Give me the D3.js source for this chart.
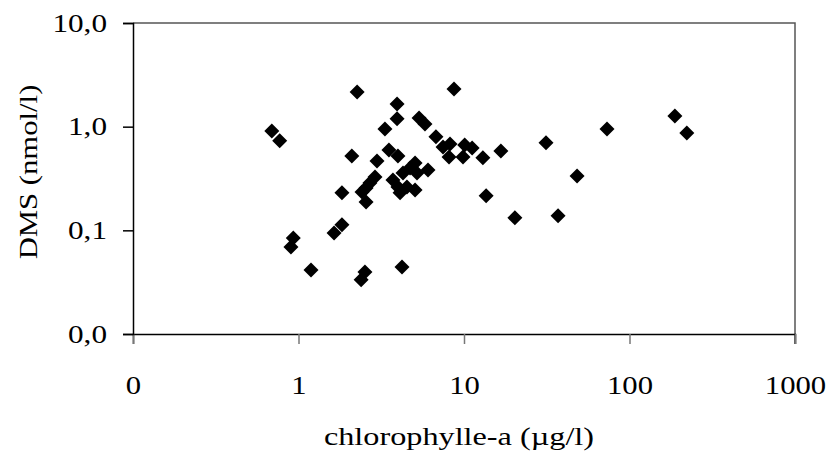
<!DOCTYPE html>
<html>
<head>
<meta charset="utf-8">
<script src="https://cdn.jsdelivr.net/npm/d3@7"></script>
<style>
  html, body { margin: 0; padding: 0; background: #fff; }
  text { font-family: "Liberation Serif", "Times New Roman", serif; fill: #000; }
</style>
</head>
<body>
<svg id="chart" width="830" height="451"></svg>
<script>
// chlorophylle-a (µg/l)
const chlorophyll = [0.69, 0.77, 0.93, 0.90, 1.19, 1.64, 1.83, 1.83, 2.10, 2.26,
  2.39, 2.52, 2.56, 2.42, 2.56, 2.70, 2.90, 2.98, 3.33, 3.52,
  3.94, 3.94, 3.99, 3.72, 4.22, 3.99, 4.11, 4.28, 4.52, 4.72,
  5.06, 5.20, 5.06, 5.35, 5.81, 6.06, 6.77, 7.47, 8.23, 8.12,
  8.70, 10.1, 11.2, 9.86, 13.0, 13.6, 16.7, 20.3, 31.3, 37.0,
  48.2, 73.1, 188, 222];
// DMS (nmol/l)
const dms = [0.91, 0.73, 0.0845, 0.069, 0.0415, 0.0944, 0.113, 0.23, 0.52, 2.16,
  0.0333, 0.0397, 0.188, 0.234, 0.256, 0.286, 0.327, 0.467, 0.95, 0.596,
  1.65, 1.19, 0.52, 0.306, 0.0444, 0.262, 0.23, 0.358, 0.262, 0.40,
  0.245, 0.358, 0.447, 1.21, 1.06, 0.382, 0.80, 0.637, 0.68, 0.51,
  2.31, 0.666, 0.623, 0.51, 0.50, 0.215, 0.583, 0.132, 0.70, 0.138,
  0.335, 0.95, 1.27, 0.87];

const xTickValues = [0.1, 1, 10, 100, 1000];
const xTickLabels = ["0", "1", "10", "100", "1000"];
const yTickValues = [0.01, 0.1, 1, 10];
const yTickLabels = ["0,0", "0,1", "1,0", "10,0"];
const xTitle = "chlorophylle-a (µg/l)";
const yTitle = "DMS (nmol/l)";

const svg = d3.select("#chart");
const mLeft = 133, mRight = 795, mTop = 23, mBottom = 334;
const FS = 26;

const x = d3.scaleLog().domain([0.1, 1000]).range([mLeft, mRight]);
const y = d3.scaleLog().domain([0.01, 10]).range([mBottom, mTop]);

// frame (top and right)
svg.append("path")
  .attr("d", `M${mLeft},${mTop}H${mRight}V${mBottom + 10}`)
  .attr("fill", "none").attr("stroke", "#555").attr("stroke-width", 1.5);

function stretch(factor) {
  return sel => sel.each(function () {
    const w = this.getComputedTextLength();
    d3.select(this).attr("textLength", w * factor).attr("lengthAdjust", "spacingAndGlyphs");
  });
}

const xAxis = d3.axisBottom(x).tickValues(xTickValues)
  .tickFormat((d, i) => xTickLabels[i]).tickSize(10).tickPadding(32);
const gx = svg.append("g").attr("transform", `translate(0,${mBottom})`).call(xAxis);
gx.select(".domain").attr("stroke", "#000").attr("stroke-width", 1.5);
gx.selectAll(".tick line").attr("stroke", "#777").attr("stroke-width", 1.5);
gx.selectAll(".tick text").attr("font-size", FS).attr("font-family", "Liberation Serif").call(stretch(1.18));

const yAxis = d3.axisLeft(y).tickValues(yTickValues)
  .tickFormat((d, i) => yTickLabels[i]).tickSize(10).tickPadding(16);
const gy = svg.append("g").attr("transform", `translate(${mLeft},0)`).call(yAxis);
gy.select(".domain").attr("stroke", "#000").attr("stroke-width", 1.5);
gy.selectAll(".tick line").attr("stroke", "#000").attr("stroke-width", 1.5);
gy.selectAll(".tick text").attr("font-size", FS).attr("font-family", "Liberation Serif").call(stretch(1.2));

// points
const pts = chlorophyll.map((c, i) => ({ c, d: dms[i] }));
const r = 7.5;
svg.append("g").selectAll("path").data(pts).join("path")
  .attr("d", `M0,${-r}L${r},0L0,${r}L${-r},0Z`)
  .attr("transform", p => `translate(${x(p.c)},${y(p.d)})`)
  .attr("fill", "#000");

// titles
svg.append("text")
  .attr("x", 459).attr("y", 445)
  .attr("text-anchor", "middle").attr("font-size", FS)
  .text(xTitle).call(stretch(1.24));

svg.append("text")
  .attr("transform", `translate(37,172) rotate(-90)`)
  .attr("text-anchor", "middle").attr("font-size", FS)
  .text(yTitle).call(stretch(1.18));
</script>
</body>
</html>
